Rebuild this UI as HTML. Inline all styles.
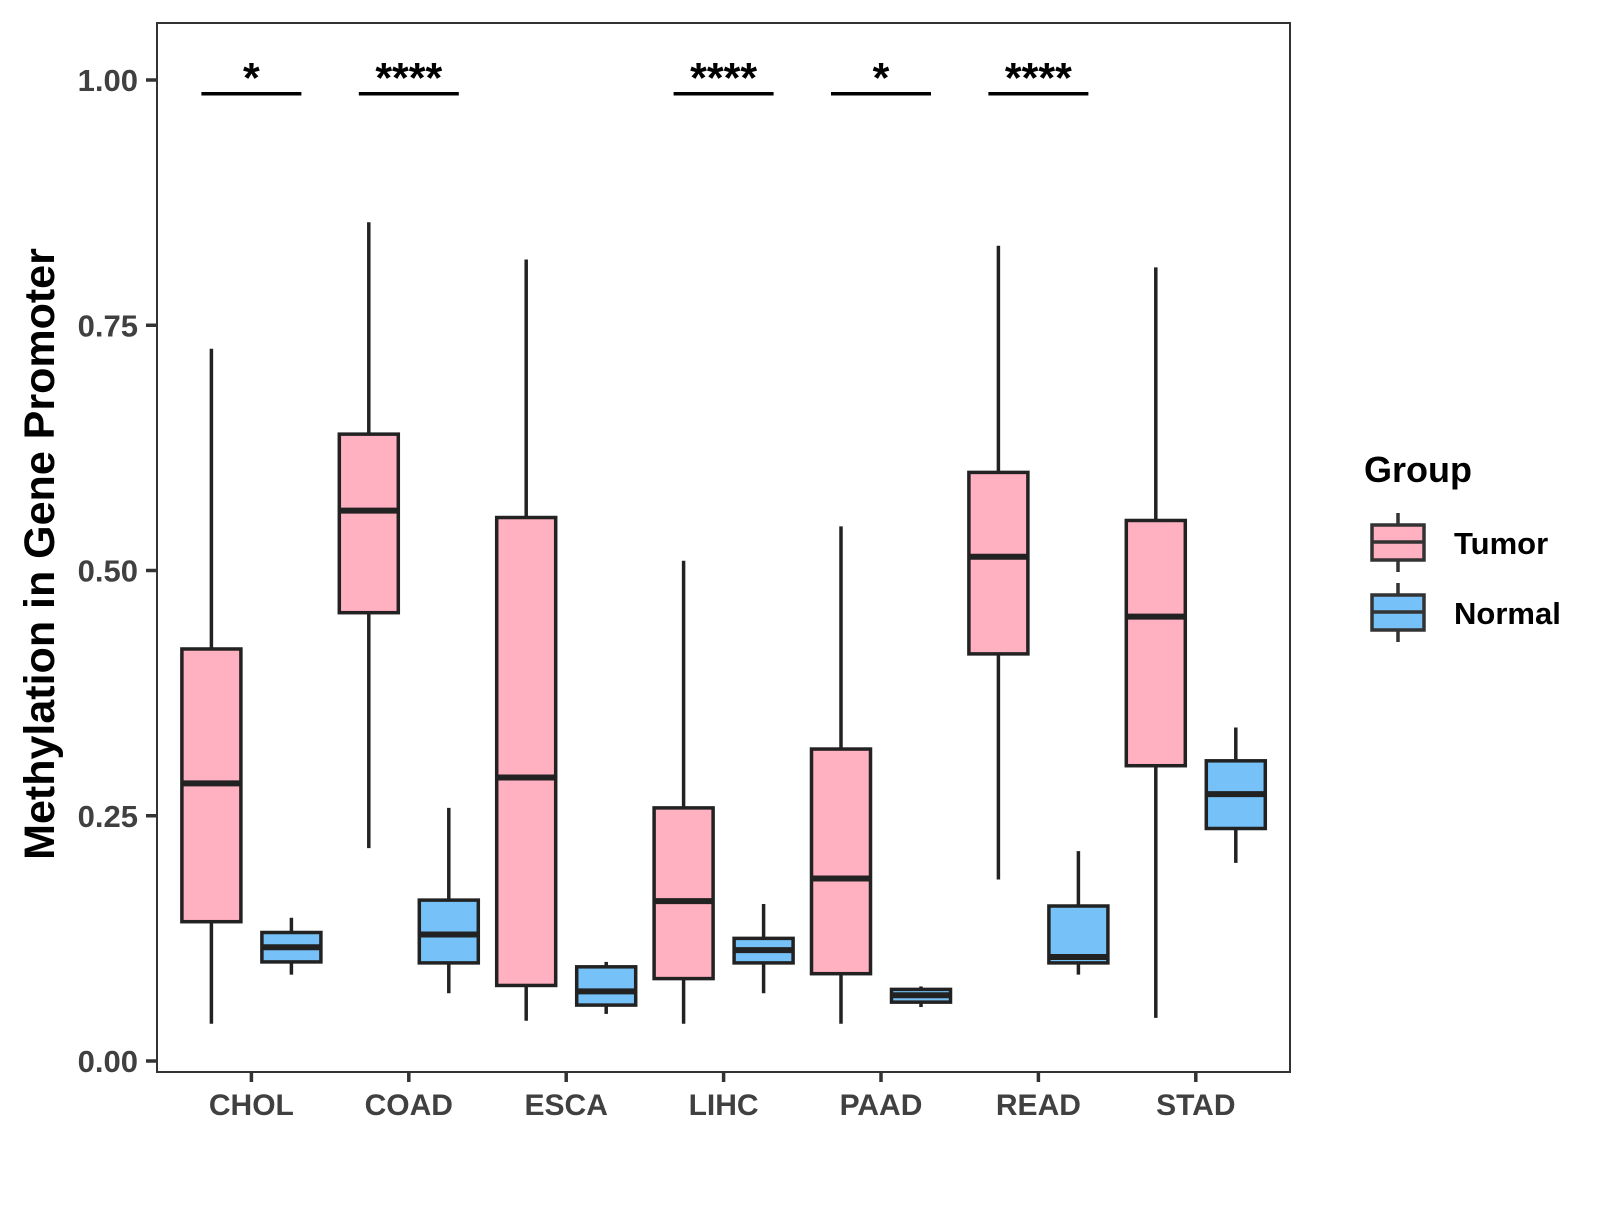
<!DOCTYPE html>
<html><head><meta charset="utf-8"><style>
body{margin:0;background:#fff}
svg text{font-family:"Liberation Sans",Arial,sans-serif;font-weight:bold}
</style></head><body>
<svg id="chart" width="1600" height="1200" viewBox="0 0 1600 1200">
<rect x="157" y="23" width="1133" height="1049" fill="#fff" stroke="#333" stroke-width="2"/>
<g id="marks"></g>
<g id="axes"></g>
<text x="54" y="554" font-size="43" text-anchor="middle" transform="rotate(-90 54 554)" fill="#000">Methylation in Gene Promoter</text>
<g>
<text x="1364" y="482" font-size="36" fill="#000">Group</text>
<g>
<line x1="1398" x2="1398" y1="513" y2="572" stroke="#333" stroke-width="3.5"/>
<rect x="1372" y="525" width="52" height="35" fill="#FFB0C1" stroke="#333" stroke-width="3.5"/>
<line x1="1372" x2="1424" y1="542" y2="542" stroke="#333" stroke-width="3.5"/>
<text x="1454" y="554" font-size="31" fill="#000">Tumor</text></g>
<g>
<line x1="1398" x2="1398" y1="583" y2="642" stroke="#333" stroke-width="3.5"/>
<rect x="1372" y="595" width="52" height="35" fill="#76C1F8" stroke="#333" stroke-width="3.5"/>
<line x1="1372" x2="1424" y1="612" y2="612" stroke="#333" stroke-width="3.5"/>
<text x="1454" y="624" font-size="31" fill="#000">Normal</text></g>
</g>
</svg>
<script>
const categories=["CHOL","COAD","ESCA","LIHC","PAAD","READ","STAD"];
// [lowWhisker, Q1, median, Q3, highWhisker]
const tumorStats=[[0.038,0.142,0.283,0.42,0.726],[0.217,0.457,0.561,0.639,0.855],[0.041,0.077,0.289,0.554,0.817],[0.038,0.084,0.163,0.258,0.51],[0.038,0.089,0.186,0.318,0.545],[0.185,0.415,0.514,0.60,0.831],[0.044,0.301,0.453,0.551,0.809]];
const normalStats=[[0.088,0.101,0.116,0.131,0.146],[0.069,0.10,0.129,0.164,0.258],[0.048,0.057,0.071,0.096,0.101],[0.069,0.10,0.113,0.125,0.16],[0.055,0.06,0.067,0.073,0.076],[0.088,0.10,0.106,0.158,0.214],[0.202,0.237,0.272,0.306,0.34]];
const significance=["*","****","","****","*","****",""];
const yTicks=[0,0.25,0.5,0.75,1.0];
const yTickLabels=["0.00","0.25","0.50","0.75","1.00"];
const sigLevel=0.986;

const NS="http://www.w3.org/2000/svg";
const y=v=>1061-v*981;
const x=i=>251.4+i*157.4;
const marks=document.getElementById('marks'),axes=document.getElementById('axes');
function mk(tag,attrs,parent){const e=document.createElementNS(NS,tag);for(const k in attrs)e.setAttribute(k,attrs[k]);parent.appendChild(e);return e;}
function box(cx,s,fill,name){
 const g=mk('g',{},marks);
 
 
 mk('line',{x1:cx,x2:cx,y1:y(s[0]),y2:y(s[4]),stroke:'#222','stroke-width':3.5},g);
 mk('rect',{x:cx-29.5,y:y(s[3]),width:59,height:y(s[1])-y(s[3]),fill:fill,stroke:'#222','stroke-width':3.5},g);
 mk('line',{x1:cx-29.5,x2:cx+29.5,y1:y(s[2]),y2:y(s[2]),stroke:'#222','stroke-width':6},g);
}
categories.forEach((c,i)=>{
 box(x(i)-40,tumorStats[i],'#FFB0C1','box-tumor-'+c.toLowerCase());
 box(x(i)+40,normalStats[i],'#76C1F8','box-normal-'+c.toLowerCase());
 if(significance[i]){
  const g=mk('g',{},marks);
  
  
  mk('line',{x1:x(i)-50,x2:x(i)+50,y1:y(sigLevel),y2:y(sigLevel),stroke:'#000','stroke-width':3.5},g);
  const t=mk('text',{x:x(i),y:y(sigLevel)-1,'font-size':43,'text-anchor':'middle',fill:'#000'},g);
  t.textContent=significance[i];
 }
 mk('line',{x1:x(i),x2:x(i),y1:1072,y2:1082,stroke:'#333','stroke-width':3.5},axes);
 const t=mk('text',{x:x(i),y:1115,'font-size':30,'text-anchor':'middle',fill:'#404040'},axes);
 
 
 t.textContent=c;
});
yTicks.forEach((v,i)=>{
 mk('line',{x1:146,x2:157,y1:y(v),y2:y(v),stroke:'#333','stroke-width':3.5},axes);
 const t=mk('text',{x:138,y:y(v)+11,'font-size':31,'text-anchor':'end',fill:'#404040'},axes);
 
 
 t.textContent=yTickLabels[i];
});
</script>
</body></html>
